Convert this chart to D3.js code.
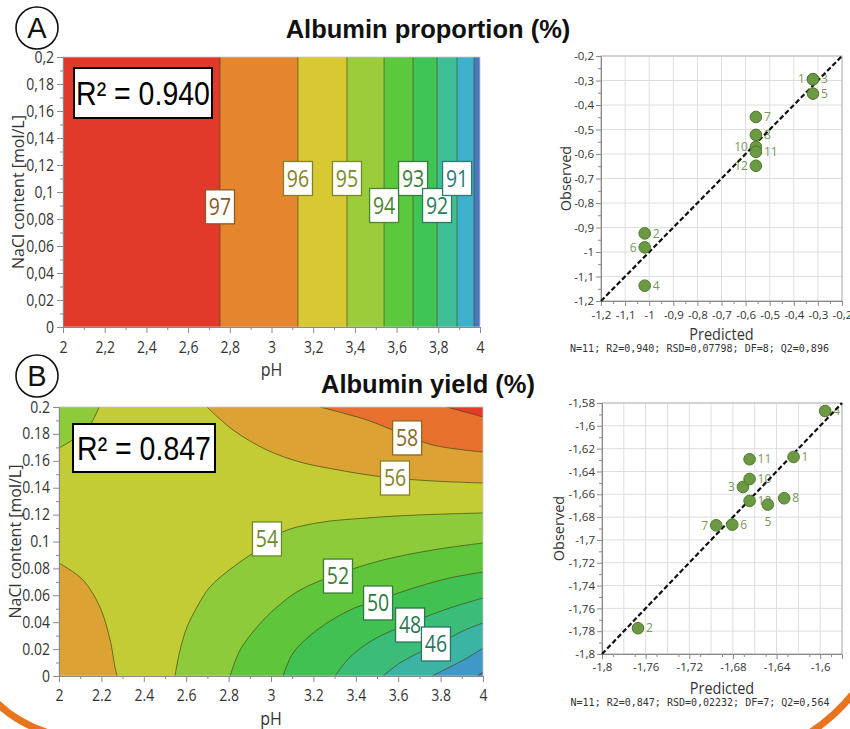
<!DOCTYPE html>
<html><head><meta charset="utf-8">
<script src="https://cdn.jsdelivr.net/npm/d3@7"></script>
<style>body{margin:0;background:#fff;} svg{display:block;}</style>
</head><body>
<svg id="c" width="850" height="729"></svg>
<script>
// ================= DATA =================
// Panel A – Albumin proportion (%) contour: iso-lines are vertical (function of pH only)
const propLevels      = [97, 96, 95, 94, 93, 92, 91, 90];
const propBoundaryPH  = [2.753, 3.127, 3.362, 3.540, 3.679, 3.794, 3.890, 3.971];
const propLabelPH     = [2.753, 3.127, 3.362, 3.540, 3.679, 3.794, 3.890];
const propLabelNaCl   = [0.089, 0.110, 0.110, 0.090, 0.110, 0.090, 0.110];
const propLabelText   = ["97", "96", "95", "94", "93", "92", "91"];

// Panel B – Albumin yield (%) contour lines, [pH, NaCl]
const c54TopLeft    = [[2.189,0.2],[2.146,0.1866],[2.085,0.1777],[2.0,0.1695]];
const c56BottomLeft = [[2.0,0.084],[2.113,0.0714],[2.193,0.0513],[2.241,0.0268],[2.264,0.0067],[2.274,0]];
const c56TopRight   = [[2.698,0.2],[2.821,0.1829],[2.981,0.168],[3.137,0.1591],[3.292,0.1539],[3.528,0.148],[3.764,0.145],[4.0,0.1435]];
const c58           = [[3.231,0.2],[3.453,0.1903],[3.608,0.1807],[3.764,0.1717],[4.0,0.1665]];
const c60           = [[3.83,0.2],[3.915,0.1963],[4.0,0.1926]];
const c54           = [[2.547,0],[2.571,0.0193],[2.604,0.0364],[2.651,0.0513],[2.712,0.0662],[2.821,0.081],[2.915,0.0914],[3.042,0.1063],[3.217,0.1138],[3.453,0.1175],[3.689,0.1197],[4.0,0.1212]];
const c52           = [[2.807,0],[2.854,0.0193],[2.934,0.0364],[3.028,0.0513],[3.137,0.0639],[3.316,0.0758],[3.528,0.0862],[3.764,0.0937],[4.0,0.0989]];
const c50           = [[3.057,0],[3.104,0.0171],[3.217,0.0342],[3.373,0.0491],[3.505,0.0565],[3.689,0.0662],[3.844,0.0729],[4.0,0.0773]];
const c48           = [[3.302,0],[3.373,0.0141],[3.481,0.0268],[3.656,0.0394],[3.844,0.0506],[4.0,0.058]];
const c46           = [[3.528,0],[3.608,0.0097],[3.703,0.0178],[3.797,0.0245],[3.915,0.0342],[4.0,0.0394]];
const c44           = [[3.759,0],[3.844,0.0067],[3.925,0.0134],[4.0,0.0208]];
const c42           = [[3.972,0],[4.0,0.003]];
const yieldLabelText = ["58", "56", "54", "52", "50", "48", "46"];
const yieldLabelPH   = [3.642, 3.585, 2.981, 3.316, 3.505, 3.656, 3.778];
const yieldLabelNaCl = [0.177, 0.1472, 0.1019, 0.0743, 0.0543, 0.0379, 0.0238];

// Observed vs predicted – panel A
const propRun  = ["1","2","3","4","5","6","7","8","10","11","12"];
const propPred = [-0.3205,-1.0186,-0.3205,-1.0186,-0.3205,-1.0186,-0.5573,-0.5573,-0.5573,-0.5573,-0.5573];
const propObs  = [-0.295,-0.924,-0.295,-1.1375,-0.3535,-0.981,-0.449,-0.522,-0.571,-0.591,-0.648];
const propSide = ["l","r","r","r","r","l","r","r","l","r","l"];
const propStats = "N=11; R2=0,940; RSD=0,07798; DF=8; Q2=0,896";

// Observed vs predicted – panel B
const yieldRun  = ["1","2","3","4","5","6","7","8","10","11","12"];
const yieldPred = [-1.6244,-1.767,-1.6708,-1.5954,-1.648,-1.6806,-1.6953,-1.633,-1.6647,-1.6647,-1.6647];
const yieldObs  = [-1.6273,-1.7774,-1.6536,-1.587,-1.669,-1.6866,-1.6872,-1.6635,-1.6466,-1.6293,-1.6658];
const yieldSide = ["r","r","l","r","b","r","l","r","r","r","r"];
const yieldStats = "N=11; R2=0,847; RSD=0,02232; DF=7; Q2=0,564";

// Tick values
const phTicks    = [2, 2.2, 2.4, 2.6, 2.8, 3, 3.2, 3.4, 3.6, 3.8, 4];
const naclTicks  = [0, 0.02, 0.04, 0.06, 0.08, 0.1, 0.12, 0.14, 0.16, 0.18, 0.2];
const propScTicks  = [-1.2,-1.1,-1,-0.9,-0.8,-0.7,-0.6,-0.5,-0.4,-0.3,-0.2];
const yieldXTicks  = [-1.8,-1.76,-1.72,-1.68,-1.64,-1.6];
const yieldYTicks  = [-1.8,-1.78,-1.76,-1.74,-1.72,-1.7,-1.68,-1.66,-1.64,-1.62,-1.6,-1.58];

// ================= STYLE =================
const FONT = "'Open Sans','Noto Sans',sans-serif";
const ARIAL = "'Liberation Sans',Arial,sans-serif";
const propColors = ["#e2392b","#e5862f","#d8c834","#9acc3c","#5ac93e","#3fc456","#3ebf98","#3cb0cc","#4a78c0"];
const propLabelColors = ["#8b5a26","#858226","#7c8a26","#4c8430","#3a7e3a","#2d7b58","#2d7a78"];
const yieldLabelColors = ["#8a6a24","#868424","#6c8a28","#3a7e36","#2e7a3e","#2a7650","#2a7462"];
const colY = {lt42:"#3d64b4", b42:"#3f98c6", b44:"#3bb4a6", b46:"#3bbc78", b48:"#40c152", b50:"#5fc63c",
              b52:"#8dcb3b", b54:"#c3cc34", b56:"#dca234", b58:"#e8702e", gt60:"#e53a2a"};
const STRETCH = 1.12;

const svg = d3.select("#c");
svg.append("rect").attr("width",850).attr("height",729).attr("fill","#fff");

const fmtComma = d => String(+d.toFixed(3)).replace(".", ",");
const fmtDot = d => String(+d.toFixed(3));

function styleAxis(g, size, stretch) {
  g.select(".domain").attr("stroke","#8a8a8a");
  g.selectAll(".tick line").attr("stroke","#8a8a8a");
  g.selectAll(".tick text").attr("fill","#333").attr("font-family",FONT).attr("font-size",size)
   .attr("transform", stretch ? `scale(1,${stretch})` : null);
}
function minorAxis(g, axisFn, scale, vals, len) {
  g.call(axisFn(scale).tickValues(vals).tickSize(len).tickFormat(""));
  g.select(".domain").remove();
  g.selectAll(".tick line").attr("stroke","#8a8a8a");
}
function stretchedText(parent, x, y, txt, size, family, anchor, fill, weight, sy) {
  return parent.append("text")
    .attr("transform", `translate(${x},${y}) scale(1,${sy})`)
    .attr("text-anchor", anchor).attr("dy","0.35em")
    .attr("font-family", family).attr("font-size", size)
    .attr("font-weight", weight || "normal").attr("fill", fill).text(txt);
}
function labelBox(g, cx, cy, txt, col) {
  g.append("rect").attr("x",cx-14.5).attr("y",cy-17).attr("width",29).attr("height",34)
    .attr("fill","#fff").attr("stroke",col).attr("stroke-width",1.3);
  stretchedText(g, cx, cy, txt, 19.5, FONT, "middle", col, "normal", 1.2);
}

// ================= PANEL A CONTOUR =================
const xA = d3.scaleLinear().domain([2,4]).range([63,480]);
const yA = d3.scaleLinear().domain([0,0.2]).range([327,57]);
const gA = svg.append("g");
const edges = [2, ...propBoundaryPH, 4];
gA.selectAll("rect.band").data(d3.range(edges.length-1)).join("rect")
  .attr("x", i => xA(edges[i])).attr("width", i => xA(edges[i+1]) - xA(edges[i]))
  .attr("y", yA(0.2)).attr("height", yA(0) - yA(0.2))
  .attr("fill", i => propColors[i]);
gA.selectAll("line.iso").data(propBoundaryPH).join("line")
  .attr("x1", d => xA(d)).attr("x2", d => xA(d)).attr("y1", yA(0)).attr("y2", yA(0.2))
  .attr("stroke","#4a5018").attr("stroke-opacity",0.7).attr("stroke-width",1);
gA.append("rect").attr("x",xA(2)).attr("y",yA(0.2)).attr("width",xA(4)-xA(2)).attr("height",yA(0)-yA(0.2))
  .attr("fill","none").attr("stroke","#c8c8c8").attr("stroke-width",0.8);
propLabelText.forEach((t,i) => labelBox(gA, xA(propLabelPH[i]), yA(propLabelNaCl[i]), t, propLabelColors[i]));

// axes A
const axAx = gA.append("g").attr("transform",`translate(0,${yA(0)})`);
minorAxis(axAx, d3.axisBottom, xA, d3.range(2.1,4,0.2), 3);
const axAx2 = gA.append("g").attr("transform",`translate(0,${yA(0)})`)
  .call(d3.axisBottom(xA).tickValues(phTicks).tickFormat(fmtComma).tickSize(6).tickPadding(7));
styleAxis(axAx2, 14, STRETCH);
const axAy = gA.append("g").attr("transform",`translate(${xA(2)},0)`);
minorAxis(axAy, d3.axisLeft, yA, d3.range(0.01,0.2,0.02), 3);
const axAy2 = gA.append("g").attr("transform",`translate(${xA(2)},0)`)
  .call(d3.axisLeft(yA).tickValues(naclTicks).tickFormat(fmtComma).tickSize(6).tickPadding(3));
styleAxis(axAy2, 14, STRETCH);

// ================= PANEL B CONTOUR =================
const xB = d3.scaleLinear().domain([2,4]).range([59,483]);
const yB = d3.scaleLinear().domain([0,0.2]).range([676,407]);
const gB = svg.append("g");
svg.append("clipPath").attr("id","clipB").append("rect")
  .attr("x",xB(2)).attr("y",yB(0.2)).attr("width",xB(4)-xB(2)).attr("height",yB(0)-yB(0.2));
const gBc = gB.append("g").attr("clip-path","url(#clipB)");
const lineB = d3.line().x(d => xB(d[0])).y(d => yB(d[1])).curve(d3.curveCatmullRom.alpha(0.5));
const region = (pts, corner) => lineB(pts) + `L${xB(corner[0])},${yB(corner[1])}Z`;

gBc.append("rect").attr("x",xB(2)).attr("y",yB(0.2)).attr("width",xB(4)-xB(2)).attr("height",yB(0)-yB(0.2)).attr("fill",colY.b54);
const fills = [
  [c56TopRight, [4,0.2], colY.b56],
  [c58, [4,0.2], colY.b58],
  [c60, [4,0.2], colY.gt60],
  [c56BottomLeft, [2,0], colY.b56],
  [c54TopLeft, [2,0.2], colY.b52],
  [c54, [4,0], colY.b52],
  [c52, [4,0], colY.b50],
  [c50, [4,0], colY.b48],
  [c48, [4,0], colY.b46],
  [c46, [4,0], colY.b44],
  [c44, [4,0], colY.b42],
  [c42, [4,0], colY.lt42]
];
gBc.selectAll("path.fill").data(fills).join("path")
  .attr("d", d => region(d[0], d[1])).attr("fill", d => d[2]);
gBc.selectAll("path.iso").data(fills).join("path")
  .attr("d", d => lineB(d[0])).attr("fill","none")
  .attr("stroke","#3f4a14").attr("stroke-opacity",0.7).attr("stroke-width",1);
gB.append("rect").attr("x",xB(2)).attr("y",yB(0.2)).attr("width",xB(4)-xB(2)).attr("height",yB(0)-yB(0.2))
  .attr("fill","none").attr("stroke","#c8c8c8").attr("stroke-width",0.8);
yieldLabelText.forEach((t,i) => labelBox(gB, xB(yieldLabelPH[i]), yB(yieldLabelNaCl[i]), t, yieldLabelColors[i]));

const axBx = gB.append("g").attr("transform",`translate(0,${yB(0)})`);
minorAxis(axBx, d3.axisBottom, xB, d3.range(2.1,4,0.2), 3);
const axBx2 = gB.append("g").attr("transform",`translate(0,${yB(0)})`)
  .call(d3.axisBottom(xB).tickValues(phTicks).tickFormat(fmtDot).tickSize(6).tickPadding(6));
styleAxis(axBx2, 14, STRETCH);
const axBy = gB.append("g").attr("transform",`translate(${xB(2)},0)`);
minorAxis(axBy, d3.axisLeft, yB, d3.range(0.01,0.2,0.02), 3);
const axBy2 = gB.append("g").attr("transform",`translate(${xB(2)},0)`)
  .call(d3.axisLeft(yB).tickValues(naclTicks).tickFormat(fmtDot).tickSize(6).tickPadding(3));
styleAxis(axBy2, 14, STRETCH);

// axis titles for contour plots
stretchedText(svg, (xA(2)+xA(4))/2, 370, "pH", 16, FONT, "middle", "#333", "normal", STRETCH);
stretchedText(svg, (xB(2)+xB(4))/2, 718.5, "pH", 16, FONT, "middle", "#333", "normal", STRETCH);
svg.append("text").attr("transform",`translate(18,${(yA(0)+yA(0.2))/2}) rotate(-90)`)
  .attr("text-anchor","middle").attr("dy","0.35em").attr("font-family",FONT).attr("font-size",16).attr("fill","#333")
  .text("NaCl content [mol/L]");
svg.append("text").attr("transform",`translate(15,${(yB(0)+yB(0.2))/2}) rotate(-90)`)
  .attr("text-anchor","middle").attr("dy","0.35em").attr("font-family",FONT).attr("font-size",16).attr("fill","#333")
  .text("NaCl content [mol/L]");

// R² boxes
function r2Box(x, y, w, h, txt) {
  svg.append("rect").attr("x",x).attr("y",y).attr("width",w).attr("height",h)
    .attr("fill","#fff").attr("stroke","#000").attr("stroke-width",2);
  stretchedText(svg, x + w/2, y + h/2 + 1, txt, 28.5, ARIAL, "middle", "#000", "normal", 1.15);
}
r2Box(74, 68, 138, 50, "R² = 0.940");
r2Box(73, 424, 142, 48, "R² = 0.847");

// Titles
svg.append("text").attr("x",428).attr("y",38).attr("text-anchor","middle").attr("font-family",ARIAL)
  .attr("font-weight","bold").attr("font-size",25.5).attr("fill","#111").text("Albumin proportion (%)");
svg.append("text").attr("x",428).attr("y",393).attr("text-anchor","middle").attr("font-family",ARIAL)
  .attr("font-weight","bold").attr("font-size",25.5).attr("fill","#111").text("Albumin yield (%)");

// circled letters
[["A",37,28],["B",37,376]].forEach(([t,cx,cy]) => {
  svg.append("circle").attr("cx",cx).attr("cy",cy).attr("r",21).attr("fill","#fff").attr("stroke","#111").attr("stroke-width",1.6);
  svg.append("text").attr("x",cx).attr("y",cy).attr("dy","0.36em").attr("text-anchor","middle")
    .attr("font-family",ARIAL).attr("font-size",29).attr("fill","#111").text(t);
});

// ================= SCATTER PLOTS =================
function scatter(opts) {
  const {x, y, gridX, gridY, tickX, tickY, minorX, minorY, run, pred, obs, side, stats, lo, hi, statsY, predY, obsX, labelDY} = opts;
  const g = svg.append("g");
  const [x0,x1] = x.range(), [y0,y1] = y.range();
  g.append("rect").attr("x",x0).attr("y",y1).attr("width",x1-x0).attr("height",y0-y1).attr("fill","#fff");
  g.selectAll("line.gx").data(gridX).join("line").attr("x1",d=>x(d)).attr("x2",d=>x(d)).attr("y1",y0).attr("y2",y1)
    .attr("stroke","#dedede").attr("stroke-width",1);
  g.selectAll("line.gy").data(gridY).join("line").attr("y1",d=>y(d)).attr("y2",d=>y(d)).attr("x1",x0).attr("x2",x1)
    .attr("stroke","#dedede").attr("stroke-width",1);
  g.append("rect").attr("x",x0).attr("y",y1).attr("width",x1-x0).attr("height",y0-y1)
    .attr("fill","none").attr("stroke","#b5b5b5").attr("stroke-width",1);
  // axes
  const mx = g.append("g").attr("transform",`translate(0,${y0})`); minorAxis(mx, d3.axisBottom, x, minorX, 3);
  const my = g.append("g").attr("transform",`translate(${x0},0)`); minorAxis(my, d3.axisLeft, y, minorY, 3);
  const ax = g.append("g").attr("transform",`translate(0,${y0})`)
    .call(d3.axisBottom(x).tickValues(tickX).tickFormat(fmtComma).tickSize(5).tickPadding(labelDY));
  styleAxis(ax, 11.5, null);
  const ay = g.append("g").attr("transform",`translate(${x0},0)`)
    .call(d3.axisLeft(y).tickValues(tickY).tickFormat(fmtComma).tickSize(5).tickPadding(2));
  styleAxis(ay, 11.5, null);
  // point labels
  const idx = d3.range(run.length);
  g.selectAll("text.pl").data(idx).join("text")
    .attr("x", i => x(pred[i]) + (side[i]==="r" ? 8 : side[i]==="l" ? -8 : 0))
    .attr("y", i => y(obs[i]) + (side[i]==="b" ? 17 : 0))
    .attr("dy","0.35em")
    .attr("text-anchor", i => side[i]==="r" ? "start" : side[i]==="l" ? "end" : "middle")
    .attr("font-family",FONT).attr("font-size",12).attr("fill","#7a9660").text(i => run[i]);
  // diagonal
  g.append("line").attr("x1",x(lo)).attr("y1",y(lo)).attr("x2",x(hi)).attr("y2",y(hi))
    .attr("stroke","#111").attr("stroke-width",2.2).attr("stroke-dasharray","5,2.5");
  // points
  g.selectAll("circle.pt").data(idx).join("circle")
    .attr("cx", i => x(pred[i])).attr("cy", i => y(obs[i])).attr("r",5.8)
    .attr("fill","#6c9a42").attr("stroke","#4e772d").attr("stroke-width",1);
  // titles
  stretchedText(g, (x0+x1)/2, predY, "Predicted", 14.5, FONT, "middle", "#333", "normal", 1.1);
  g.append("text").attr("transform",`translate(${obsX},${(y0+y1)/2}) rotate(-90)`)
    .attr("text-anchor","middle").attr("dy","0.35em").attr("font-family",FONT).attr("font-size",14.5).attr("fill","#333")
    .text("Observed");
  g.append("text").attr("x",(x0+x1)/2 - 22).attr("y",statsY).attr("dy","0.35em").attr("text-anchor","middle")
    .attr("font-family","'DejaVu Sans Mono','Liberation Mono',monospace").attr("font-size",10).attr("fill","#333").text(stats);
}

scatter({
  x: d3.scaleLinear().domain([-1.2,-0.2]).range([601,842]),
  y: d3.scaleLinear().domain([-1.2,-0.2]).range([301,56]),
  gridX: propScTicks, gridY: propScTicks, tickX: propScTicks, tickY: propScTicks,
  minorX: d3.range(-1.15,-0.2,0.1), minorY: d3.range(-1.15,-0.2,0.1),
  run: propRun, pred: propPred, obs: propObs, side: propSide, stats: propStats,
  lo: -1.2, hi: -0.2, statsY: 348, predY: 334, obsX: 566, labelDY: 5
});
scatter({
  x: d3.scaleLinear().domain([-1.8,-1.58]).range([602,842]),
  y: d3.scaleLinear().domain([-1.8,-1.58]).range([654,403]),
  gridX: yieldYTicks, gridY: yieldYTicks, tickX: yieldXTicks, tickY: yieldYTicks,
  minorX: d3.range(-1.79,-1.58,0.02), minorY: d3.range(-1.79,-1.58,0.02),
  run: yieldRun, pred: yieldPred, obs: yieldObs, side: yieldSide, stats: yieldStats,
  lo: -1.8, hi: -1.58, statsY: 702, predY: 688, obsX: 559, labelDY: 4
});

// decorative slide arcs
svg.append("path").attr("d","M-4,702 Q18,724 52,734").attr("fill","none").attr("stroke","#e8741e").attr("stroke-width",7);
svg.append("path").attr("d","M808,734 Q836,716 856,690").attr("fill","none").attr("stroke","#e8741e").attr("stroke-width",7);
</script>
</body></html>
